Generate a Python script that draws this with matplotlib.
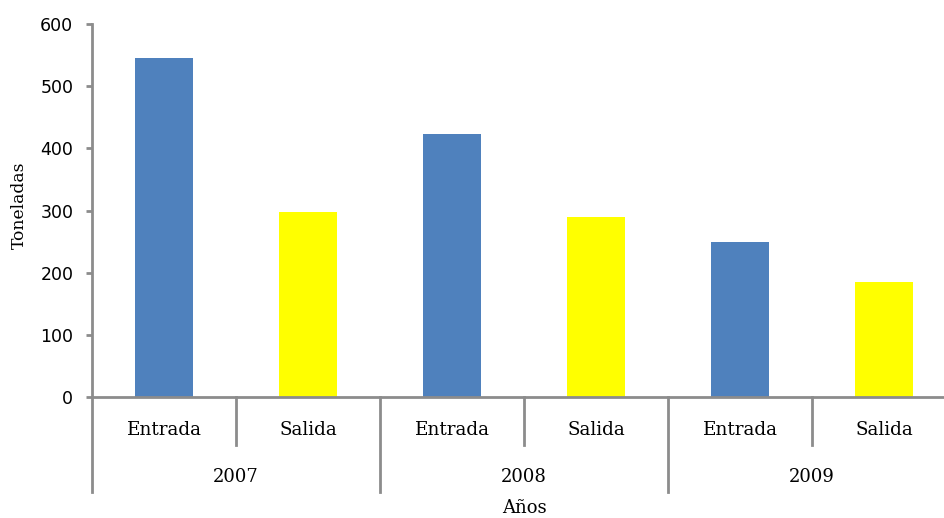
import matplotlib.pyplot as plt
import matplotlib.transforms as mtransforms

# datos (toneladas)
anios = ["2007", "2008", "2009"]
tipos = ["Entrada", "Salida"]
entrada = [545, 423, 249]
salida = [298, 290, 185]

colores = {"Entrada": "#4F81BD", "Salida": "#FFFF00"}
gris = "#8C8C8C"
serif = "DejaVu Serif"

fig = plt.figure(figsize=(9.45, 5.18), dpi=100)
ax = fig.add_axes([92 / 945, 121 / 518, 864 / 945, 373 / 518])

valores = []
cats = []
for i, a in enumerate(anios):
    valores += [entrada[i], salida[i]]
    cats += tipos

x = list(range(len(valores)))
ax.bar(x, valores, width=0.4, color=[colores[c] for c in cats], zorder=2)

ax.set_xlim(-0.5, len(valores) - 0.5)
ax.set_ylim(0, 600)
ax.set_yticks(range(0, 601, 100))
ax.tick_params(axis="y", length=4, width=2, color=gris, pad=9.5,
               labelsize=12.5, labelfontfamily="DejaVu Sans")
ax.set_xticks([])

for s in ["top", "right"]:
    ax.spines[s].set_visible(False)
for s in ["left", "bottom"]:
    ax.spines[s].set_color(gris)
    ax.spines[s].set_linewidth(2)

trans = mtransforms.blended_transform_factory(ax.transData, ax.transAxes)

# separadores cortos entre Entrada/Salida
for k in range(len(anios)):
    xs = 2 * k + 0.5
    ax.plot([xs, xs], [0, -0.129], transform=trans, color=gris, lw=2, clip_on=False)
# separadores largos entre años
for k in range(len(anios) + 1):
    xs = 2 * k - 0.5
    ax.plot([xs, xs], [0, -0.255], transform=trans, color=gris, lw=2, clip_on=False)

for xi, c in zip(x, cats):
    ax.text(xi, -0.088, c, transform=trans, ha="center", va="center",
            fontsize=13.2, family=serif)
for k, a in enumerate(anios):
    ax.text(2 * k + 0.5, -0.214, a, transform=trans, ha="center", va="center",
            fontsize=13, family=serif)

ax.text(0.5, -0.298, "Años", transform=ax.transAxes, ha="center", va="center",
        fontsize=13, family=serif)
fig.text(19 / 945, 1 - 205 / 518, "Toneladas", rotation=90, ha="center", va="center",
         fontsize=12.3, family=serif)

fig.savefig("out.png", dpi=100)
